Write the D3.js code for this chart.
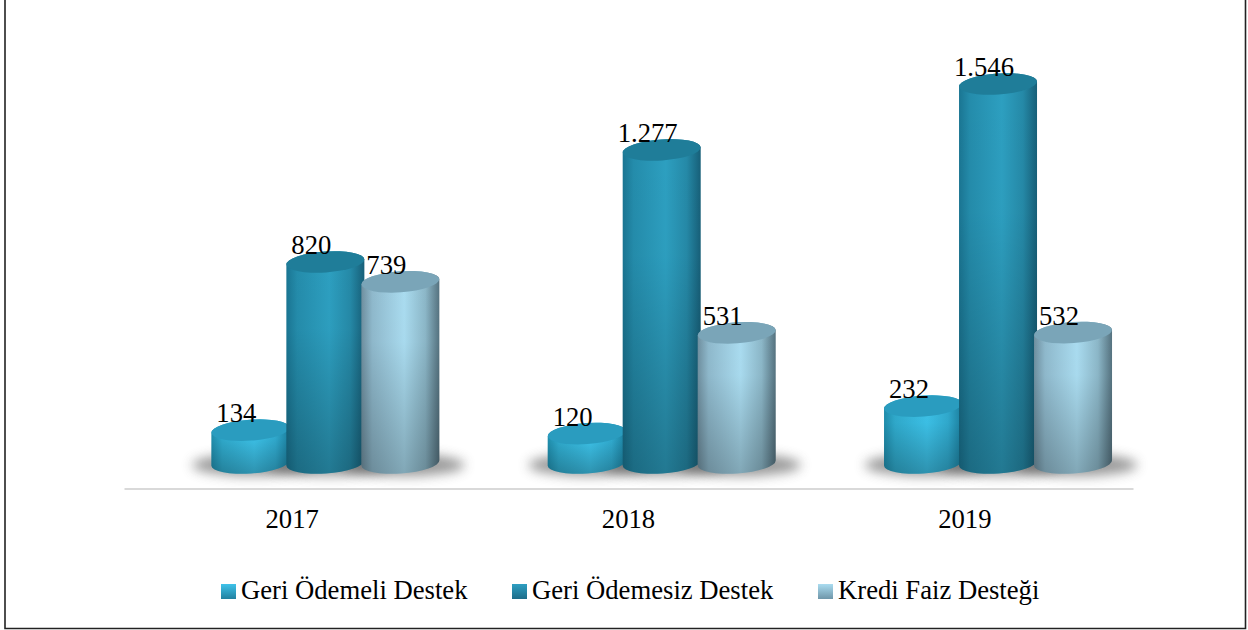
<!DOCTYPE html>
<html><head><meta charset="utf-8">
<script src="https://cdn.jsdelivr.net/npm/d3@7"></script>
<style>html,body{margin:0;padding:0;background:#fff}svg{display:block}text{font-family:"Liberation Serif","Times New Roman",serif;fill:#000}</style>
</head><body><svg id="c" width="1248" height="630"></svg>
<script>
const years = ["2017","2018","2019"];
const seriesNames = ["Geri Ödemeli Destek","Geri Ödemesiz Destek","Kredi Faiz Desteği"];
const geriOdemeli = [134,120,232];
const geriOdemesiz = [820,1277,1546];
const krediFaiz = [739,531,532];
const seriesValues = [geriOdemeli,geriOdemesiz,krediFaiz];
const sideEdge = ["#1f8cab","#1a7592","#6f8f9f"];
const sideMid  = ["#3cc0e6","#2d9fc0","#aadcf0"];
const sideRight = ["#1b7f9e","#175f78","#55727f"];
const topFill  = ["#2a9cbf","#1f7d99","#7aa5b8"];
const legendTop = ["#3fc3ea","#2e9fc2","#aadcf0"];
const legendBottom = ["#22809f","#1d6c88","#6f96a9"];
const legendX = [221,512,818];

const svg = d3.select("#c");
const defs = svg.append("defs");
const fmt = d3.formatLocale({decimal:",",thousands:".",grouping:[3],currency:["",""]}).format(",");
const x0 = d3.scaleBand().domain(years).range([124,1133]);
const x1 = d3.scaleBand().domain(d3.range(3)).range([0,225]);
const depthShift = 33.2;
const y = d3.scaleLinear().domain([0,1546]).range([463,84]);
const rx = 39, ry = 10.5, tilt = -4;
const dy = rx*Math.sin(4*Math.PI/180);

seriesNames.forEach((n,i)=>{
  const g = defs.append("linearGradient").attr("id","side"+i);
  const mix = d3.interpolateRgb;
  [[0,sideEdge[i]],[.14,mix(sideEdge[i],sideMid[i])(.55)],[.55,sideMid[i]],[.82,mix(sideRight[i],sideMid[i])(.65)],[1,sideRight[i]]]
    .forEach(s=>g.append("stop").attr("offset",s[0]).attr("stop-color",s[1]));
  const l = defs.append("linearGradient").attr("id","leg"+i).attr("x2",0).attr("y2",1);
  l.append("stop").attr("offset",0).attr("stop-color",legendTop[i]);
  l.append("stop").attr("offset",1).attr("stop-color",legendBottom[i]);
});
const ov = defs.append("linearGradient").attr("id","shade").attr("x2",0).attr("y2",1);
ov.append("stop").attr("offset",0).attr("stop-color","#000").attr("stop-opacity",0);
ov.append("stop").attr("offset",.35).attr("stop-color","#000").attr("stop-opacity",0.01);
ov.append("stop").attr("offset",1).attr("stop-color","#000").attr("stop-opacity",0.24);
defs.append("filter").attr("id","blur").attr("x","-30%").attr("y","-100%").attr("width","160%").attr("height","300%")
  .append("feGaussianBlur").attr("stdDeviation",6);

svg.append("path").attr("d","M5,0V628.5H1245.5V0").attr("fill","none").attr("stroke","#222").attr("stroke-width",1.6);

const cx = (yi,si)=>x0(years[yi])+x1(si)+depthShift+x1.bandwidth()/2+(x0.bandwidth()-225)/2;
// shadows
years.forEach((yr,yi)=>seriesNames.forEach((n,si)=>{
  svg.append("ellipse").attr("cx",cx(yi,si)+3).attr("cy",465).attr("rx",rx+22).attr("ry",11)
    .attr("fill","#555").attr("opacity",.6).attr("filter","url(#blur)");
}));
// cylinders
years.forEach((yr,yi)=>seriesNames.forEach((n,si)=>{
  const c = cx(yi,si), t = y(seriesValues[si][yi]), b = y(0);
  const d = `M${c-rx},${t+dy}V${b+dy}A${rx},${ry} ${tilt} 0 0 ${c+rx},${b-dy}V${t-dy}A${rx},${ry} ${tilt} 0 0 ${c-rx},${t+dy}Z`;
  svg.append("path").attr("d",d).attr("fill",`url(#side${si})`);
  svg.append("path").attr("d",d).attr("fill","url(#shade)");
  svg.append("ellipse").attr("cx",c).attr("cy",t).attr("rx",rx).attr("ry",ry).attr("fill",topFill[si])
    .attr("transform",`rotate(${tilt} ${c} ${t})`);
}));
// labels
years.forEach((yr,yi)=>seriesNames.forEach((n,si)=>{
  svg.append("text").attr("x",cx(yi,si)-14).attr("y",y(seriesValues[si][yi])-8)
    .attr("text-anchor","middle").attr("font-size",26.67).text(fmt(seriesValues[si][yi]));
}));
// axis
const axisG = svg.append("g").attr("transform","translate(0,488.5)")
  .call(d3.axisBottom(x0).tickSize(0).tickPadding(0));
axisG.select(".domain").attr("stroke","#d9d9d9").attr("stroke-width",2);
axisG.selectAll("text").attr("font-size",26.67).attr("dy",0).attr("y",39.5)
  .style("font-family",'"Liberation Serif","Times New Roman",serif');
// legend
seriesNames.forEach((n,i)=>{
  svg.append("rect").attr("x",legendX[i]).attr("y",584).attr("width",15).attr("height",15).attr("fill",`url(#leg${i})`);
  svg.append("text").attr("x",legendX[i]+20).attr("y",599).attr("font-size",26.67).text(n);
});
</script></body></html>
